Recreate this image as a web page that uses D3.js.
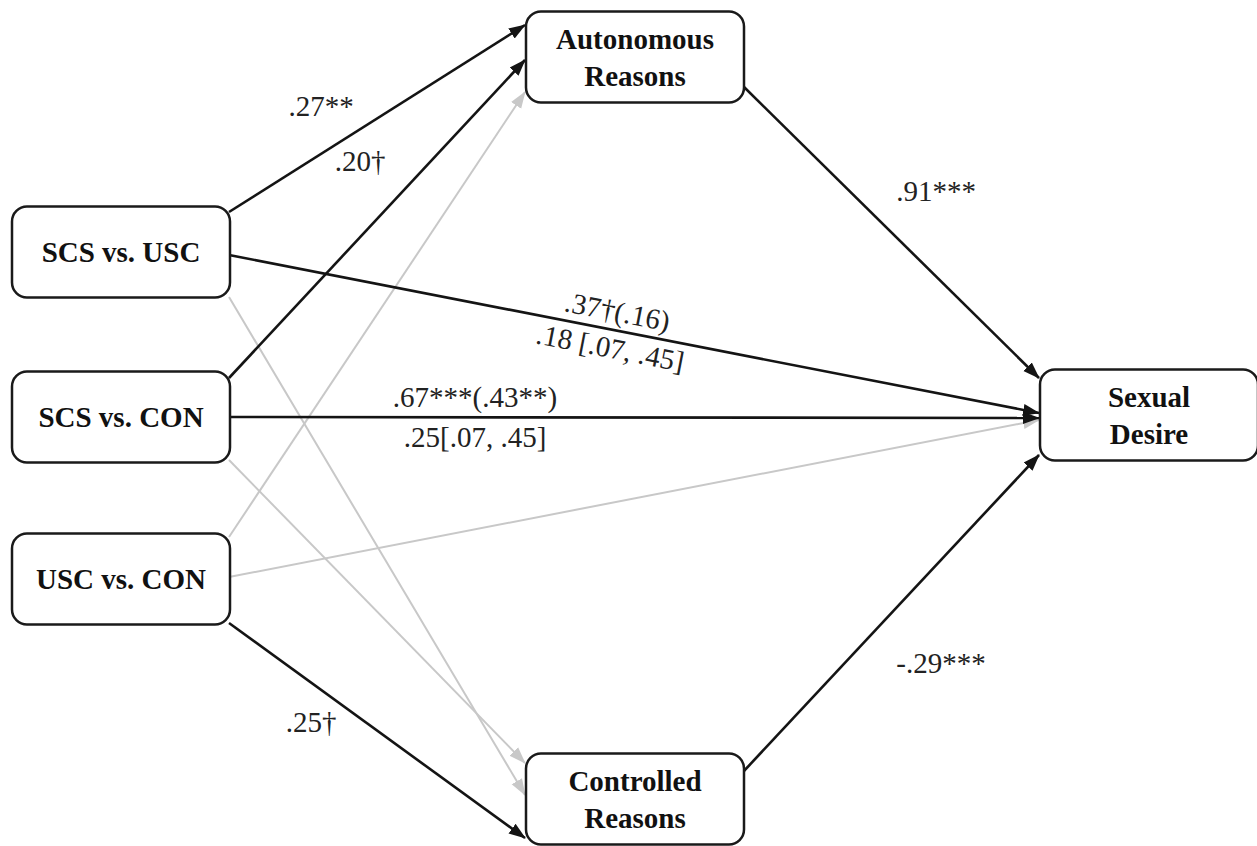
<!DOCTYPE html>
<html>
<head>
<meta charset="utf-8">
<script src="https://cdn.jsdelivr.net/npm/d3@7"></script>
<style>
  body { margin: 0; background: #fff; }
  svg { display: block; }
  .node rect { fill: #fff; stroke: #1a1a1a; stroke-width: 2.5; }
  .node text { font-family: "Times New Roman", "Liberation Serif", serif; font-weight: bold; font-size: 29px; fill: #111; }
  .coef { font-family: "Times New Roman", "Liberation Serif", serif; font-size: 29px; fill: #222; }
</style>
</head>
<body>
<div id="chart"></div>
<script>
// node names (one entry per text line)
var nodeLines = [
    ["SCS vs. USC"],
    ["SCS vs. CON"],
    ["USC vs. CON"],
    ["Autonomous", "Reasons"],
    ["Controlled", "Reasons"],
    ["Sexual", "Desire"]
];

// paths: source node, target node, significant or not
var pathFrom = [0, 1, 2, 0, 1, 2, 3, 0, 1, 2, 4];
var pathTo   = [3, 3, 3, 4, 4, 4, 5, 5, 5, 5, 5];
var pathSig  = [true, true, false, false, false, true, true, true, true, false, true];

// coefficient labels (empty = none)
var coefLabels = [".27**", ".20\u2020", "", "", "", ".25\u2020", ".91***", ".37\u2020(.16)", ".67***(.43**)", "", "-.29***"];
var indirectLabels = ["", "", "", "", "", "", "", ".18 [.07, .45]", ".25[.07, .45]", "", ""];

/*
 * layout (pixels)
 */
var width = 1257, height = 846;
var boxW = 218, boxH = 91, radius = 15;

var x = d3.scaleLinear().domain([0, 2]).range([121, 1149]);
var nodeCol = [0, 0, 0, 1, 1, 2];
var nodeY = [252, 417, 579, 57, 799, 415];

// where each path leaves and enters its boxes (y offset from box centre)
var startOff = [-40, -39, -42, 45, 43, 44, 29, 3, 0, -2, -27];
var endOff   = [-32, 3, 35, -4, -36, 39, -37, -2, 3, 5, 40];

// label placement: absolute centre, or fraction along path + perpendicular offset
var coefPos = [
    {abs: [321, 116]}, {abs: [360, 171]}, null, null, null, {abs: [311, 732]},
    {abs: [936, 201]}, {t: 0.475, d: -9}, {abs: [475, 407]}, null, {abs: [941, 673]}
];
var indirPos = [null, null, null, null, null, null, null, {t: 0.475, d: 28}, {abs: [475, 447]}, null, null];

var svg = d3.select("#chart").append("svg")
    .attr("width", width)
    .attr("height", height);

var defs = svg.append("defs");
[["black", "#141414"], ["grey", "#c8c8c8"]].forEach(function(m) {
    defs.append("marker")
        .attr("id", "arrow-" + m[0])
        .attr("viewBox", "0 -7 17 14")
        .attr("refX", 16)
        .attr("refY", 0)
        .attr("markerWidth", 17)
        .attr("markerHeight", 14)
        .attr("markerUnits", "userSpaceOnUse")
        .attr("orient", "auto")
        .append("path")
        .attr("d", "M0,-6L17,0L0,6Z")
        .attr("fill", m[1]);
});

var paths = pathFrom.map(function(f, i) {
    var t = pathTo[i];
    return {
        x1: x(nodeCol[f]) + boxW / 2 - 1,
        y1: nodeY[f] + startOff[i],
        x2: x(nodeCol[t]) - boxW / 2 - 1,
        y2: nodeY[t] + endOff[i],
        sig: pathSig[i],
        i: i
    };
});

// grey paths underneath
var ordered = paths.slice().sort(function(a, b) { return a.sig - b.sig; });

svg.append("g").selectAll("line")
    .data(ordered)
    .enter()
    .append("line")
    .attr("x1", d => d.x1)
    .attr("y1", d => d.y1)
    .attr("x2", d => d.x2)
    .attr("y2", d => d.y2)
    .attr("stroke", d => d.sig ? "#141414" : "#c8c8c8")
    .attr("stroke-width", d => d.sig ? 2.6 : 2)
    .attr("marker-end", d => "url(#arrow-" + (d.sig ? "black" : "grey") + ")");

var nodes = svg.append("g").selectAll("g")
    .data(nodeLines)
    .enter()
    .append("g")
    .attr("class", "node")
    .attr("transform", (d, i) => "translate(" + x(nodeCol[i]) + "," + nodeY[i] + ")");

nodes.append("rect")
    .attr("x", -boxW / 2)
    .attr("y", -boxH / 2)
    .attr("width", boxW)
    .attr("height", boxH)
    .attr("rx", radius)
    .attr("ry", radius);

nodes.each(function(lines) {
    var g = d3.select(this);
    var lh = 37;
    lines.forEach(function(l, k) {
        g.append("text")
            .attr("text-anchor", "middle")
            .attr("y", (k - (lines.length - 1) / 2) * lh + 10)
            .text(l);
    });
});

function place(p, pos, label) {
    if (!pos || !label) return;
    var cx, cy, ang = 0;
    if (pos.abs) {
        cx = pos.abs[0]; cy = pos.abs[1];
    } else {
        var dx = p.x2 - p.x1, dy = p.y2 - p.y1;
        var len = Math.sqrt(dx * dx + dy * dy);
        ang = Math.atan2(dy, dx) * 180 / Math.PI;
        cx = p.x1 + dx * pos.t - dy / len * pos.d;
        cy = p.y1 + dy * pos.t + dx / len * pos.d;
    }
    svg.append("text")
        .attr("class", "coef")
        .attr("text-anchor", "middle")
        .attr("transform", "translate(" + cx + "," + cy + ") rotate(" + ang + ")")
        .text(label);
}

paths.forEach(function(p, i) {
    place(p, coefPos[i], coefLabels[i]);
    place(p, indirPos[i], indirectLabels[i]);
});
</script>
</body>
</html>
